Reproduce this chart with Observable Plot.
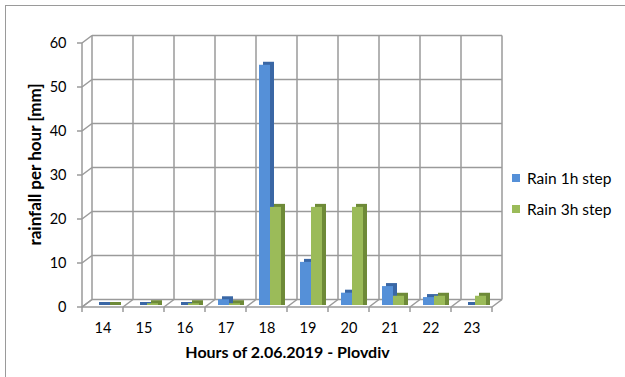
<!DOCTYPE html>
<html>
<head>
<meta charset="utf-8">
<script src="https://cdn.jsdelivr.net/npm/d3@7"></script>
<script src="https://cdn.jsdelivr.net/npm/@observablehq/plot@0.6"></script>
<style>
  html, body { margin: 0; padding: 0; background: #fff; }
  #wrap { position: relative; width: 625px; height: 377px; overflow: hidden; font-family: Lato, "Open Sans", sans-serif; }
  #frame { position: absolute; left: 5px; top: 5px; width: 700px; height: 500px; border-left: 1px solid #9a9a9a; border-top: 1px solid #9a9a9a; }
  #legend { position: absolute; left: 512px; top: 167px; font-size: 15.5px; color: #000; }
  #legend .item { display: flex; align-items: center; height: 21px; margin-bottom: 10px; }
  #legend .sw { width: 8px; height: 8px; margin-right: 7px; }
</style>
</head>
<body>
<div id="wrap">
  <div id="frame"></div>
  <div id="chart"></div>
  <div id="legend"></div>
</div>
<script>
// ---- data ----
const hours = ["14", "15", "16", "17", "18", "19", "20", "21", "22", "23"];
const rain1h = [0, 0, 0, 1.3, 54.6, 9.8, 2.8, 4.3, 1.8, 0];
const rain3h = [0, 0.4, 0.4, 0.4, 22.3, 22.3, 22.3, 2.1, 2.1, 2.1];
const yTicks = [0, 10, 20, 30, 40, 50, 60];
const seriesNames = ["Rain 1h step", "Rain 3h step"];
const seriesColors = ["#5590d8", "#9bbb59"];
const seriesSide = ["#3a67a5", "#6e8a38"];
const xTitle = "Hours of 2.06.2019 - Plovdiv";
const yTitle = "rainfall per hour [mm]";

const rows1 = hours.map((h, i) => ({hour: h, value: rain1h[i]}));
const rows3 = hours.map((h, i) => ({hour: h, value: rain3h[i]}));

// 3D wall / floor grid drawn through Plot's scales
const DX = 10, DY = -7.5;
function grid3d(index, scales) {
  const x = scales.x, y = scales.y;
  const n = hours.length;
  const step = x(hours[1]) - x(hours[0]);
  const edges = hours.map(h => x(h)).concat([x(hours[n - 1]) + step]);
  const y0 = y(0), yTop = y(yTicks[yTicks.length - 1]);
  const g = d3.create("svg:g").attr("fill", "none").attr("stroke", "#9a9a9a").attr("stroke-width", 1.5);
  const line = (x1, y1, x2, y2) => g.append("line").attr("x1", x1).attr("y1", y1).attr("x2", x2).attr("y2", y2);
  for (const t of yTicks) line(edges[0] + DX, y(t) + DY, edges[n] + DX, y(t) + DY);
  for (const e of edges) line(e + DX, y0 + DY, e + DX, yTop + DY);
  for (const t of yTicks) line(edges[0], y(t), edges[0] + DX, y(t) + DY);
  line(edges[0], y0, edges[0], yTop);
  for (const t of yTicks) line(edges[0] - 5, y(t), edges[0], y(t));
  line(edges[0], y0, edges[n], y0);
  for (const e of edges) line(e, y0, e + DX, y0 + DY);
  for (const e of edges) line(e, y0, e, y0 + 5);
  return g.node();
}

const chart = Plot.plot({
  width: 625,
  height: 377,
  marginLeft: 82,
  marginRight: 133,
  marginTop: 43,
  marginBottom: 70,
  style: {fontFamily: "Lato, 'Open Sans', sans-serif", fontSize: "14.5px", color: "#000", background: "transparent"},
  x: {type: "band", domain: hours, padding: 0, tickSize: 0, tickPadding: 15, label: null},
  y: {domain: [0, 60], ticks: yTicks, tickSize: 0, tickPadding: 16, label: null},
  marks: [
    grid3d,
    Plot.barY(rows1, {x: "hour", y: "value", insetLeft: 10, insetRight: 20, insetTop: -3, dx: 7, dy: -2, fill: seriesSide[0]}),
    Plot.barY(rows1, {x: "hour", y: "value", insetLeft: 10, insetRight: 20, dx: 3, dy: -2, fill: seriesColors[0]}),
    Plot.barY(rows3, {x: "hour", y: "value", insetLeft: 21, insetRight: 9, insetTop: -3, dx: 7, dy: -2, fill: seriesSide[1]}),
    Plot.barY(rows3, {x: "hour", y: "value", insetLeft: 21, insetRight: 9, dx: 3, dy: -2, fill: seriesColors[1]}),
    Plot.text([yTitle], {frameAnchor: "left", textAnchor: "middle", lineAnchor: "middle", rotate: -90, dx: -47, dy: -11, fontWeight: "bold", fontSize: 17, text: d => d}),
    Plot.text([xTitle], {frameAnchor: "bottom", textAnchor: "middle", dy: 50, fontWeight: "bold", fontSize: 16, text: d => d})
  ]
});
document.getElementById("chart").appendChild(chart);

const legend = document.getElementById("legend");
seriesNames.forEach((name, i) => {
  const item = document.createElement("div");
  item.className = "item";
  const sw = document.createElement("div");
  sw.className = "sw";
  sw.style.background = seriesColors[i];
  const label = document.createElement("span");
  label.textContent = name;
  item.appendChild(sw);
  item.appendChild(label);
  legend.appendChild(item);
});
</script>
</body>
</html>
